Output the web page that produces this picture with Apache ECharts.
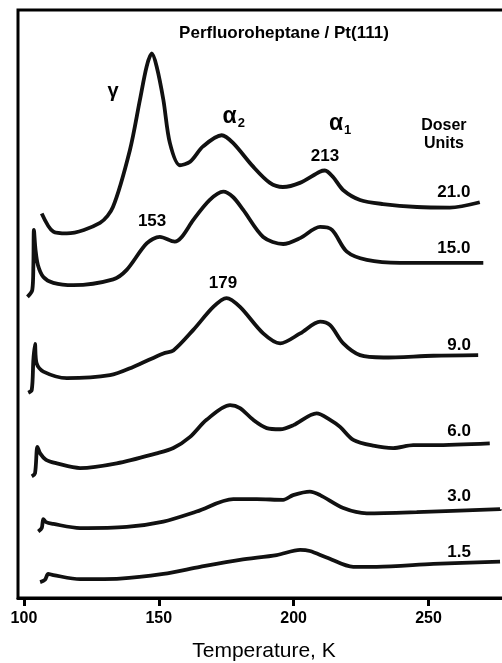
<!DOCTYPE html>
<html>
<head>
<meta charset="utf-8">
<script src="https://cdn.jsdelivr.net/npm/echarts@6/dist/echarts.min.js"></script>
<style>
  html, body { margin: 0; padding: 0; background: #fff; }
  #chart { width: 502px; height: 663px; }
</style>
</head>
<body>
<div id="chart"></div>
<script>
// TPD traces, temperature (K) vs. stacked intensity (arb. units, offset per trace)
const dose21 = [
  [106.6, 65.4], [110.9, 62.3], [115.9, 62.0], [128.2, 63.8], [133.0, 66.5], [139.3, 76.2],
  [143.0, 84.7], [145.5, 90.4], [147.4, 92.6], [149.2, 90.4], [151.7, 84.7], [154.1, 77.4],
  [157.8, 73.6], [161.6, 74.2], [166.4, 76.8], [173.3, 78.7], [177.5, 77.4], [184.9, 73.4],
  [191.2, 70.6], [196.0, 69.9], [202.3, 70.6], [209.7, 72.5], [211.6, 72.7], [214.6, 71.6],
  [218.3, 69.4], [224.6, 67.7], [233.1, 67.0], [245.7, 66.5], [257.9, 66.4], [269.0, 67.3]
];
const dose15 = [
  [101.3, 51.2], [103.1, 52.4], [103.5, 56.6], [103.7, 62.6], [104.3, 59.2], [105.2, 56.6],
  [107.2, 54.6], [110.9, 53.6], [118.3, 53.2], [133.1, 54.2], [138.1, 55.8], [145.5, 60.3],
  [150.4, 61.4], [155.9, 60.6], [158.5, 61.4], [162.8, 64.3], [168.9, 67.7], [173.9, 69.1],
  [177.5, 68.2], [181.3, 66.0], [188.7, 61.4], [196.1, 60.2], [202.4, 61.2], [209.8, 63.1],
  [214.2, 62.6], [219.7, 58.9], [227.1, 57.5], [239.4, 57.0], [251.8, 57.0], [270.3, 57.0]
];
const dose9 = [
  [101.6, 34.9], [102.9, 35.4], [103.5, 40.5], [104.1, 43.2], [104.7, 39.9], [107.2, 38.5],
  [115.9, 37.4], [131.9, 37.9], [140.5, 39.3], [151.7, 41.6], [155.4, 42.1], [162.8, 45.6],
  [170.2, 49.5], [175.1, 51.0], [180.1, 49.5], [188.7, 45.0], [195.0, 43.3], [202.4, 45.0],
  [209.8, 47.0], [213.5, 46.4], [218.4, 43.3], [224.6, 41.3], [233.3, 40.9], [251.8, 41.2],
  [268.4, 41.3]
];
const dose6 = [
  [102.9, 20.7], [104.1, 21.2], [105.0, 25.7], [106.0, 24.6], [108.2, 23.5], [112.2, 22.9],
  [120.8, 22.1], [134.4, 22.9], [149.2, 24.6], [155.4, 25.5], [161.6, 27.4], [167.7, 30.3],
  [176.4, 32.8], [180.1, 32.3], [185.0, 30.3], [190.0, 28.9], [195.0, 28.7], [199.9, 29.4],
  [208.5, 31.4], [213.5, 30.3], [217.2, 29.1], [222.1, 26.9], [229.5, 25.9], [236.9, 25.5],
  [244.3, 26.0], [251.8, 26.0], [272.7, 26.3]
];
const dose3 = [
  [105.3, 11.3], [106.6, 11.9], [107.2, 13.4], [108.2, 12.9], [110.9, 12.6], [120.8, 11.9],
  [138.1, 12.1], [151.7, 13.0], [164.0, 14.7], [177.6, 16.8], [186.3, 16.8], [196.1, 16.7],
  [199.8, 17.5], [206.0, 18.1], [209.8, 17.5], [218.4, 15.3], [227.1, 14.4], [245.6, 14.6],
  [276.5, 15.1]
];
const dose1_5 = [
  [106.0, 2.7], [107.8, 3.1], [109.0, 4.1], [110.9, 3.9], [120.8, 3.2], [135.6, 3.3],
  [151.7, 4.1], [165.3, 5.3], [180.1, 6.5], [193.7, 7.3], [202.4, 8.2], [206.0, 8.0],
  [212.2, 6.9], [222.1, 5.3], [230.8, 5.3], [251.8, 5.8], [276.5, 6.2]
];

const traceNames = ['21.0', '15.0', '9.0', '6.0', '3.0', '1.5'];
const traces = [dose21, dose15, dose9, dose6, dose3, dose1_5];
const xTicks = [100, 150, 200, 250];

// text annotations: [T, y, text]
const doseLabels = [
  [259.4, 69.0, '21.0'], [259.4, 59.4, '15.0'], [261.3, 42.9, '9.0'],
  [261.3, 28.4, '6.0'], [261.3, 17.3, '3.0'], [261.3, 7.8, '1.5']
];
const peakLabels = [
  [211.6, 75.2, '213'], [147.5, 64.1, '153'], [173.8, 53.6, '179']
];
const greekLabels = [
  [133.0, 86.2, 'γ'], [177.8, 81.8, '{a|α}{s|2}'], [217.2, 80.6, '{a|α}{s|1}']
];
const unitLabel = [[255.7, 78.8, 'Doser\nUnits']];
const titleLabel = [[196.4, 96.1, 'Perfluoroheptane / Pt(111)']];

const FONT = 'Liberation Sans, Arial, sans-serif';

const textSeries = (data, style) => ({
  type: 'scatter',
  data: data,
  symbolSize: 1,
  itemStyle: { color: 'rgba(0,0,0,0)', opacity: 1 },
  silent: true,
  label: Object.assign({
    show: true,
    position: 'inside',
    color: '#000',
    textBorderWidth: 0,
    fontFamily: FONT,
    formatter: p => p.data[2]
  }, style),
  z: 5
});

const chart = echarts.init(document.getElementById('chart'));

chart.setOption({
  backgroundColor: '#fff',
  animation: false,
  grid: {
    left: 18, top: 10, width: 492, bottom: 65,
    outerBoundsMode: 'none',
    show: true, borderColor: '#000', borderWidth: 3
  },
  xAxis: {
    type: 'value',
    min: 97.8,
    max: 280.2,
    name: 'Temperature, K',
    nameLocation: 'middle',
    nameGap: 43,
    nameTextStyle: { color: '#000', fontSize: 21, fontFamily: FONT },
    axisLine: { lineStyle: { color: '#000', width: 3 } },
    axisTick: { customValues: xTicks, length: 8, inside: false, lineStyle: { color: '#000', width: 3 } },
    axisLabel: { customValues: xTicks, margin: 13, color: '#000', fontSize: 16, fontWeight: 'bold', fontFamily: FONT },
    splitLine: { show: false }
  },
  yAxis: {
    type: 'value', min: 0, max: 100, show: false
  },
  series: traces.map((d, i) => ({
    name: traceNames[i],
    type: 'line',
    data: d,
    smooth: 0.3,
    showSymbol: false,
    lineStyle: { color: '#111', width: 3.8 },
    z: 3
  })).concat([
    textSeries(doseLabels, { fontSize: 17, fontWeight: 'bold' }),
    textSeries(peakLabels, { fontSize: 17, fontWeight: 'bold' }),
    textSeries(greekLabels, {
      fontSize: 20,
      fontWeight: 'bold',
      rich: {
        a: { fontSize: 23, fontFamily: FONT, color: '#000' },
        s: { fontSize: 13, fontFamily: FONT, fontWeight: 'bold', color: '#000', padding: [12, 0, 0, 1] }
      }
    }),
    textSeries(unitLabel, { fontSize: 16, fontWeight: 'bold', lineHeight: 18 }),
    textSeries(titleLabel, { fontSize: 17, fontWeight: 'bold' })
  ])
});
</script>
</body>
</html>
